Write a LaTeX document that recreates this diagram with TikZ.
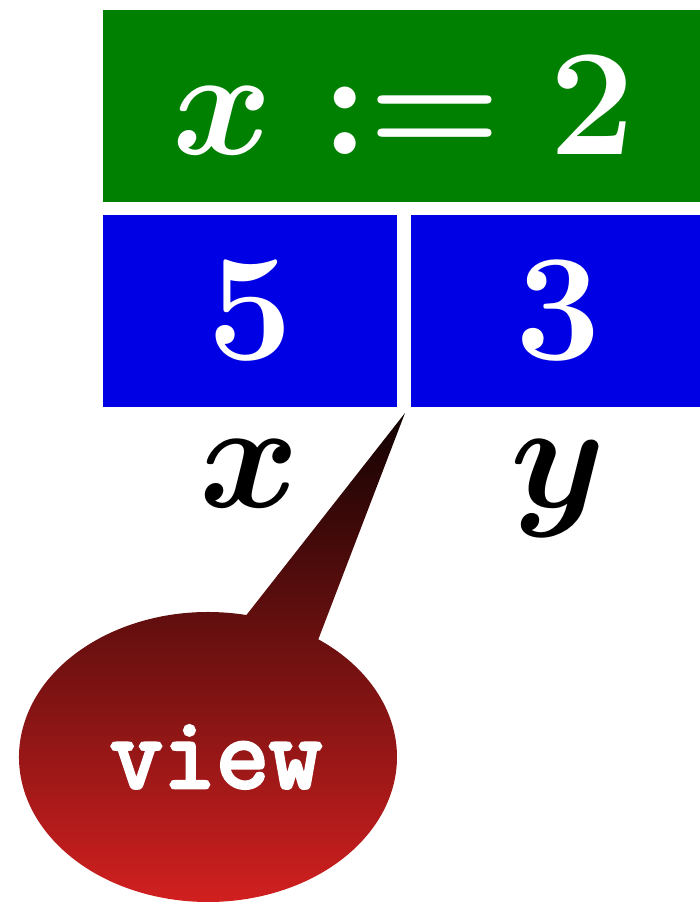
\RequirePackage{fix-cm}
\documentclass[tikz,border=0pt]{standalone}
\usepackage{fontspec}
\newfontfamily\viewfont{Latin Modern Mono}[FakeBold=3.5]
\usetikzlibrary{shapes.callouts}
\definecolor{gbox}{RGB}{0,128,0}
\definecolor{bbox}{RGB}{0,0,228}
\definecolor{bubtop}{RGB}{18,2,2}
\definecolor{bubbot}{RGB}{212,32,32}
\begin{document}
\begin{tikzpicture}[x=0.5pt,y=-0.5pt,
  cell/.style={rectangle,inner sep=0pt,minimum width=147pt,minimum height=96pt,
    text=white,font=\fontsize{76}{90}\selectfont\boldmath},
  lab/.style={inner sep=0pt,font=\fontsize{76}{90}\selectfont\boldmath,anchor=base},
  bubble/.style={ellipse callout,inner sep=0pt,minimum width=189pt,minimum height=145pt,
    top color=bubtop,bottom color=bubbot,text=white,
    font=\fontsize{51.5}{60}\selectfont\viewfont,callout pointer arc=24}]
\clip (0,0) rectangle (700,902);
\node[cell,fill=gbox,minimum width=301pt] (g) at (404,106) {$x := 2$};
\node[cell,fill=bbox] (b1) at (250,311) {$5$};
\node[cell,fill=bbox] (b2) at (558,311) {$3$};
\node[lab] (lx) at (250,507) {$x$};
\node[lab] (ly) at (558,507) {$y$};
\coordinate (tip) at (405,413);
\node[bubble,callout absolute pointer=(tip)] (v) at (208,757) {\hspace*{8pt}view};
\end{tikzpicture}
\end{document}
